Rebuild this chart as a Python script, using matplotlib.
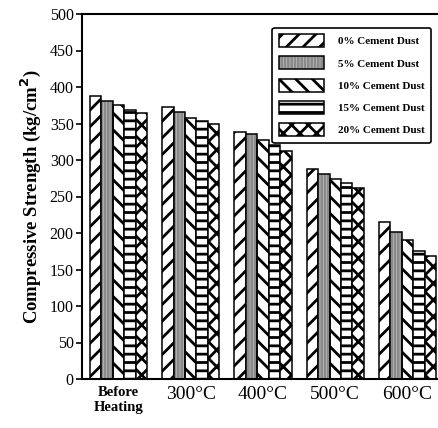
import numpy as np
import matplotlib
matplotlib.use('Agg')
import matplotlib.pyplot as plt
from matplotlib.patches import Patch
from matplotlib.legend_handler import HandlerTuple

plt.rcParams['font.family'] = 'Liberation Serif'
plt.rcParams['hatch.linewidth'] = 2.0

# data
groups = ['Before\nHeating', '300°C', '400°C', '500°C', '600°C']
series = ['0% Cement Dust', '5% Cement Dust', '10% Cement Dust',
          '15% Cement Dust', '20% Cement Dust']
dust_0 = [387, 372, 338, 287, 215]
dust_5 = [381, 366, 335, 281, 202]
dust_10 = [376, 358, 328, 274, 191]
dust_15 = [369, 353, 320, 269, 176]
dust_20 = [365, 349, 313, 261, 169]
values = [dust_0, dust_5, dust_10, dust_15, dust_20]

hatches = ['//', None, '\\\\', '--', 'xx']

fig = plt.figure(figsize=(4.38, 4.28), dpi=100)
ax = fig.add_axes([82/438, 49/428, 1.06 - 82/438, 365/428])

x = np.arange(len(groups))
w = 0.158
handles = []
for i, vals in enumerate(values):
    pos = x + (i - 2) * w
    if i == 1:
        # grey stippled bars: grey texture then black outline
        ax.bar(pos, vals, w, facecolor='#cccccc', edgecolor='#8a8a8a',
               hatch='|||||', linewidth=0, zorder=2)
        ax.bar(pos, vals, w, fill=False, edgecolor='black', linewidth=1.1, zorder=3)
        handles.append((Patch(facecolor='#cccccc', edgecolor='#8a8a8a', hatch='|||||', linewidth=0),
                        Patch(fill=False, edgecolor='black', linewidth=1.1)))
    else:
        ax.bar(pos, vals, w, facecolor='white', edgecolor='black',
               hatch=hatches[i], linewidth=1.1, zorder=2)
        handles.append(Patch(facecolor='white', edgecolor='black',
                             hatch=hatches[i], linewidth=1.1))

ax.set_xlim(-0.505, (1.06 * 438 - 118.5) / 72.25)
ax.set_ylim(0, 500)
ax.set_yticks(range(0, 501, 50))
ax.set_xticks(x)
ax.set_xticklabels(groups)
for k, lab in enumerate(ax.get_xticklabels()):
    if k == 0:
        lab.set_fontsize(10.5)
        lab.set_fontweight('bold')
    else:
        lab.set_fontsize(14)
ax.tick_params(axis='x', length=0, pad=5)
ax.tick_params(axis='y', direction='out', length=4, width=1.2, labelsize=11.5, pad=2)
for s in ['left', 'top', 'bottom']:
    ax.spines[s].set_linewidth(1.5)
ax.spines['right'].set_visible(False)

ax.set_ylabel('Compressive Strength (kg/cm$^\\mathbf{2}$)', fontsize=13.5,
              fontweight='bold', labelpad=5)

leg = fig.legend(handles, series, loc='upper right',
                 bbox_to_anchor=(437/438, 1 - 22/428),
                 handler_map={tuple: HandlerTuple(ndivide=1, pad=0)},
                 prop={'weight': 'bold', 'size': 8},
                 handlelength=4.0, handleheight=1.4, labelspacing=0.85,
                 borderpad=0.6, handletextpad=1.3, fancybox=True,
                 framealpha=1, edgecolor='black')
leg.get_frame().set_linewidth(1.2)

fig.savefig('out.png', dpi=100)
